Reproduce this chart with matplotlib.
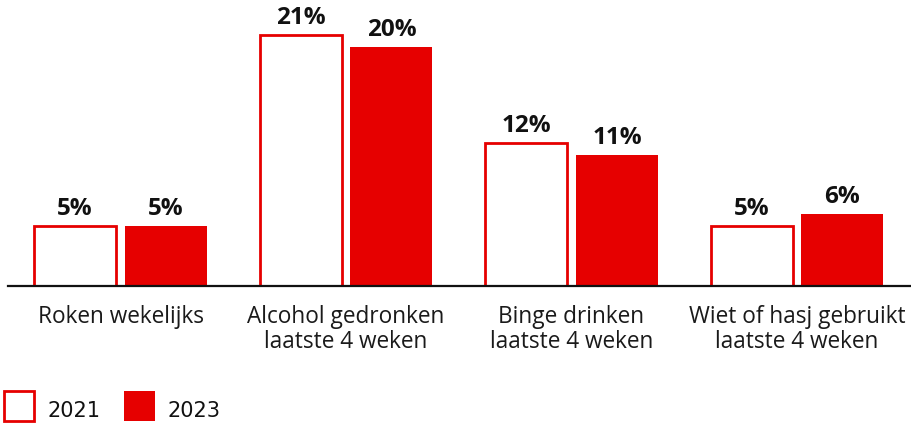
import matplotlib
matplotlib.use("Agg")
import matplotlib.pyplot as plt
from matplotlib.patches import Rectangle
import numpy as np

categories = ["Roken wekelijks", "Alcohol gedronken\nlaatste 4 weken",
              "Binge drinken\nlaatste 4 weken", "Wiet of hasj gebruikt\nlaatste 4 weken"]
values_2021 = [5, 21, 12, 5]
values_2023 = [5, 20, 11, 6]
series_names = ["2021", "2023"]

RED = "#E60000"
W, H = 912, 425
fig = plt.figure(figsize=(W / 100, H / 100), dpi=100)

def px_axes(l, t, r, b):
    return fig.add_axes([l / W, 1 - b / H, (r - l) / W, (b - t) / H])

ax = px_axes(8, 10, 912, 286)
x = np.arange(len(categories))
bw = 82 / 225.5
off = 45.5 / 225.5
b1 = ax.bar(x - off, values_2021, width=bw, facecolor="white", edgecolor=RED, linewidth=2)
b2 = ax.bar(x + off, values_2023, width=bw, facecolor=RED, edgecolor=RED, linewidth=0)
ax.set_xlim(-112.5 / 225.5, 3 + 115 / 225.5)
ax.set_ylim(0, 276 / 11.95)

for bars, vals in ((b1, values_2021), (b2, values_2023)):
    for rect, v in zip(bars, vals):
        ax.annotate(f"{v}%", (rect.get_x() + rect.get_width() / 2, v),
                    xytext=(0, 3.5), textcoords="offset points",
                    ha="center", va="bottom", fontsize=17.5, fontweight="bold",
                    family="Open Sans", color="#111111")

for s in ("top", "right", "left"):
    ax.spines[s].set_visible(False)
ax.spines["bottom"].set_linewidth(1.6)
ax.spines["bottom"].set_color("#111111")
ax.set_yticks([])
ax.set_xticks(x)
ax.set_xticklabels(categories, fontsize=16.3, family="Open Sans", color="#1a1a1a", linespacing=1.05)
ax.tick_params(axis="x", length=0, pad=14)

# legend
def fig_rect(l, t, w, h, **kw):
    fig.patches.append(Rectangle((l / W, 1 - (t + h) / H), w / W, h / H,
                                 transform=fig.transFigure, figure=fig, **kw))

fig_rect(4, 391, 30, 30, facecolor="white", edgecolor=RED, linewidth=2)
fig_rect(124, 391, 31, 30, facecolor=RED, edgecolor="none")
fig.text(48 / W, 1 - 411 / H, series_names[0], fontsize=15, va="center", ha="left", color="#111111")
fig.text(168 / W, 1 - 411 / H, series_names[1], fontsize=15, va="center", ha="left", color="#111111")

fig.savefig("out.png", dpi=100)
